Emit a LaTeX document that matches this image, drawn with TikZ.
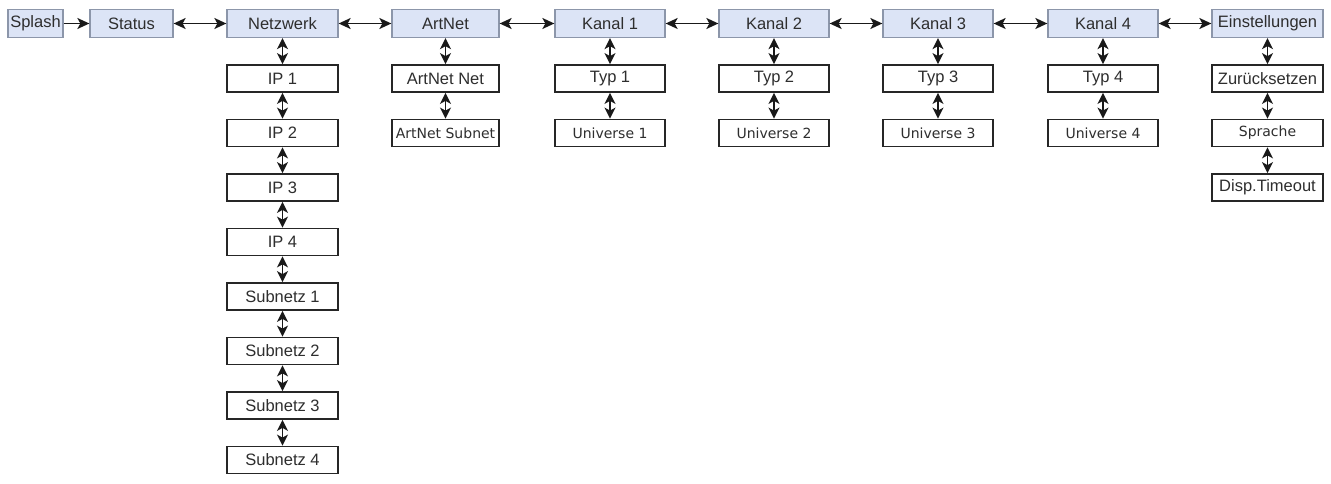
\documentclass[tikz,border=0pt]{standalone}
\usepackage{fontspec}
\setmainfont{Liberation Sans}
\newfontfamily\uvfont{DejaVu Sans}
\usetikzlibrary{arrows.meta}
\definecolor{topfill}{HTML}{DCE4F6}
\definecolor{topdraw}{HTML}{8C96AA}
\definecolor{txt}{HTML}{2E2E2E}
\tikzset{
  topbox/.style={draw=topdraw, fill=topfill, line width=1.3pt, minimum height=28pt, inner sep=0pt, text=txt, font=\fontsize{16.5}{18}\selectfont},
  subbox/.style={draw=black!85, fill=white, line width=1.8pt, minimum height=27pt, inner sep=0pt, text=txt, font=\fontsize{16.5}{18}\selectfont},
  uvtext/.style={font=\uvfont\fontsize{14}{16}\selectfont},
  link/.style={line width=1.6pt, black!90, {Stealth[length=12pt,width=11pt,inset=3pt]}-{Stealth[length=12pt,width=11pt,inset=3pt]}},
  onelink/.style={line width=1.6pt, black!90, -{Stealth[length=12pt,width=11pt,inset=3pt]}},
  vlink/.style={line width=1.6pt, black!90, {Stealth[length=11pt,width=11pt,inset=3pt]}-{Stealth[length=11pt,width=11pt,inset=3pt]}}
}
\begin{document}
\begin{tikzpicture}[x=1pt,y=-1pt]
\useasboundingbox (0,0) rectangle (1331,484);
\fill[white] (0,0) rectangle (1331,484);
% top row
\node[topbox, minimum width=55pt] (splash) at (35.5,23.5) {Splash};
\node[topbox, minimum width=83pt] (status) at (131.5,23.5) {Status};
\node[topbox, minimum width=111pt] (netz) at (282.5,23.5) {Netzwerk};
\node[topbox, minimum width=107pt] (artnet) at (445.5,23.5) {ArtNet};
\node[topbox, minimum width=110pt] (k1) at (610,23.5) {Kanal 1};
\node[topbox, minimum width=110pt] (k2) at (774,23.5) {Kanal 2};
\node[topbox, minimum width=110pt] (k3) at (938,23.5) {Kanal 3};
\node[topbox, minimum width=110pt] (k4) at (1103,23.5) {Kanal 4};
\node[topbox, minimum width=111pt] (ein) at (1267.5,23.5) {Einstellungen};
% Netzwerk column
\node[subbox, minimum width=111pt] (ip1) at (282.5,78.5) {IP 1};
\node[subbox, minimum width=111pt] (ip2) at (282.5,133) {IP 2};
\node[subbox, minimum width=111pt] (ip3) at (282.5,187.5) {IP 3};
\node[subbox, minimum width=111pt] (ip4) at (282.5,242) {IP 4};
\node[subbox, minimum width=111pt] (sn1) at (282.5,296.5) {Subnetz 1};
\node[subbox, minimum width=111pt] (sn2) at (282.5,351) {Subnetz 2};
\node[subbox, minimum width=111pt] (sn3) at (282.5,405.5) {Subnetz 3};
\node[subbox, minimum width=111pt] (sn4) at (282.5,460) {Subnetz 4};
% ArtNet column
\node[subbox, minimum width=107pt] (an1) at (445.5,78.5) {ArtNet Net};
\node[subbox, minimum width=107pt, uvtext] (an2) at (445.5,133) {ArtNet Subnet};
% Kanal columns
\node[subbox, minimum width=110pt] (t1) at (610,78.5) {Typ 1};
\node[subbox, minimum width=110pt, uvtext] (u1) at (610,133) {Universe 1};
\node[subbox, minimum width=110pt] (t2) at (774,78.5) {Typ 2};
\node[subbox, minimum width=110pt, uvtext] (u2) at (774,133) {Universe 2};
\node[subbox, minimum width=110pt] (t3) at (938,78.5) {Typ 3};
\node[subbox, minimum width=110pt, uvtext] (u3) at (938,133) {Universe 3};
\node[subbox, minimum width=110pt] (t4) at (1103,78.5) {Typ 4};
\node[subbox, minimum width=110pt, uvtext] (u4) at (1103,133) {Universe 4};
% Einstellungen column
\node[subbox, minimum width=111pt] (zu) at (1267.5,78.5) {Zurücksetzen};
\node[subbox, minimum width=111pt, uvtext] (sp) at (1267.5,133) {Sprache};
\node[subbox, minimum width=111pt] (dt) at (1267.5,187.5) {Disp.Timeout};
% horizontal connectors
\draw[onelink] (splash.east) -- (status.west);
\draw[link] (status.east) -- (netz.west);
\draw[link] (netz.east) -- (artnet.west);
\draw[link] (artnet.east) -- (k1.west);
\draw[link] (k1.east) -- (k2.west);
\draw[link] (k2.east) -- (k3.west);
\draw[link] (k3.east) -- (k4.west);
\draw[link] (k4.east) -- (ein.west);
% vertical connectors
\foreach \a/\b in {netz/ip1, ip1/ip2, ip2/ip3, ip3/ip4, ip4/sn1, sn1/sn2, sn2/sn3, sn3/sn4,
  artnet/an1, an1/an2, k1/t1, t1/u1, k2/t2, t2/u2, k3/t3, t3/u3, k4/t4, t4/u4,
  ein/zu, zu/sp, sp/dt}
  \draw[vlink] (\a.south) -- (\b.north);
\end{tikzpicture}
\end{document}
